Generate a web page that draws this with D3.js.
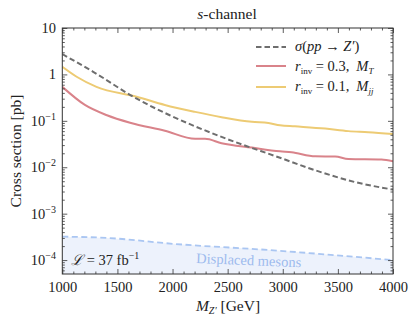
<!DOCTYPE html>
<html>
<head>
<meta charset="utf-8">
<script src="https://cdn.jsdelivr.net/npm/d3@7"></script>
<style>
  body { margin: 0; background: #fff; }
  svg text { font-family: "Liberation Serif", "Times New Roman", serif !important; }
</style>
</head>
<body>
<svg id="chart" width="415" height="323"></svg>
<script>
// values
const sigmaMass = [1000, 1280, 1675, 1975, 2445, 2975, 3295, 3655, 4000];
const sigmaZp   = [2.74, 1.14, 0.30, 0.132, 0.045, 0.016, 0.0086, 0.0048, 0.0033];

const mtMass = [1000, 1205, 1405, 1615, 1930, 2205, 2295, 2445, 2720, 2975, 3080, 3295, 3475, 3595, 3895, 4000];
const mtXsec = [0.54, 0.22, 0.132, 0.091, 0.061, 0.041, 0.041, 0.033, 0.0265, 0.022, 0.021, 0.0172, 0.017, 0.015, 0.0146, 0.0135];

const mjjMass = [1000, 1130, 1310, 1675, 1930, 2205, 2445, 2720, 2870, 2975, 3110, 3385, 3595, 3775, 4000];
const mjjXsec = [1.46, 0.89, 0.54, 0.33, 0.22, 0.156, 0.12, 0.095, 0.09, 0.08, 0.076, 0.068, 0.060, 0.057, 0.052];

const dispMass = [1000, 1405, 2005, 2915, 4000];
const dispXsec = [3.2e-4, 3.0e-4, 2.24e-4, 1.62e-4, 1.0e-4];

const xTicks = [1000, 1500, 2000, 2500, 3000, 3500, 4000];
const yDecades = [-4, -3, -2, -1, 0, 1];

const svg = d3.select('#chart');
const x = d3.scaleLinear().domain([1000, 4000]).range([62.3, 393]);
const y = d3.scaleLog().domain([Math.pow(10, -4.3), 10]).range([274, 28]);

const pts = (ms, vs) => ms.map((m, i) => [m, vs[i]]);
const line = d3.line().x(d => x(d[0])).y(d => y(d[1])).curve(d3.curveMonotoneX);

const plot = svg.append('g');
plot.append('clipPath').attr('id', 'clip')
  .append('rect').attr('x', 62.3).attr('y', 28).attr('width', 330.7).attr('height', 246);
const inner = plot.append('g').attr('clip-path', 'url(#clip)');

// displaced mesons band
const area = d3.area().x(d => x(d[0])).y0(274).y1(d => y(d[1])).curve(d3.curveMonotoneX);
inner.append('path').datum(pts(dispMass, dispXsec))
  .attr('d', area).attr('fill', '#edf2fc');
inner.append('path').datum(pts(dispMass, dispXsec))
  .attr('d', line).attr('fill', 'none').attr('stroke', '#aac6f2')
  .attr('stroke-width', 1.8).attr('stroke-dasharray', '6,3.5');

inner.append('path').datum(pts(mjjMass, mjjXsec))
  .attr('d', line).attr('fill', 'none').attr('stroke', '#edcb74').attr('stroke-width', 2);
inner.append('path').datum(pts(mtMass, mtXsec))
  .attr('d', line).attr('fill', 'none').attr('stroke', '#d9838a').attr('stroke-width', 2);
inner.append('path').datum(pts(sigmaMass, sigmaZp))
  .attr('d', line).attr('fill', 'none').attr('stroke', '#6e6e6e')
  .attr('stroke-width', 2).attr('stroke-dasharray', '5.5,3');

// axes: ticks point inward on all four sides
const minorY = [];
yDecades.forEach(p => { for (let k = 2; k <= 9; k++) { const v = k * Math.pow(10, p - 1); if (v >= Math.pow(10, -4.3) && v <= 10) minorY.push(v); } });
const minorX = d3.range(1000, 4001, 100).filter(v => v % 500 !== 0);

const axisStyle = g => {
  g.select('.domain').remove();
  g.selectAll('line').attr('stroke', '#333').attr('stroke-width', 0.8);
};

svg.append('g').attr('transform', 'translate(0,274)')
  .call(d3.axisBottom(x).tickValues(xTicks).tickSize(-5).tickPadding(8).tickFormat(d3.format('d')))
  .call(axisStyle)
  .call(g => g.selectAll('text').attr('font-size', 14.5).attr('fill', '#222'));
svg.append('g').attr('transform', 'translate(0,274)')
  .call(d3.axisBottom(x).tickValues(minorX).tickSize(-2.5).tickFormat('')).call(axisStyle);
svg.append('g').attr('transform', 'translate(0,28)')
  .call(d3.axisTop(x).tickValues(xTicks).tickSize(-5).tickFormat('')).call(axisStyle);
svg.append('g').attr('transform', 'translate(0,28)')
  .call(d3.axisTop(x).tickValues(minorX).tickSize(-2.5).tickFormat('')).call(axisStyle);

const yMajor = yDecades.map(p => Math.pow(10, p));
svg.append('g').attr('transform', 'translate(62.3,0)')
  .call(d3.axisLeft(y).tickValues(yMajor).tickSize(-5).tickFormat(''))
  .call(axisStyle);
svg.append('g').attr('transform', 'translate(62.3,0)')
  .call(d3.axisLeft(y).tickValues(minorY).tickSize(-2.5).tickFormat('')).call(axisStyle);
svg.append('g').attr('transform', 'translate(393,0)')
  .call(d3.axisRight(y).tickValues(yMajor).tickSize(-5).tickFormat('')).call(axisStyle);
svg.append('g').attr('transform', 'translate(393,0)')
  .call(d3.axisRight(y).tickValues(minorY).tickSize(-2.5).tickFormat('')).call(axisStyle);

// y tick labels with superscripts
yDecades.forEach(p => {
  const t = svg.append('text').attr('x', 56).attr('y', y(Math.pow(10, p)) + 5)
    .attr('text-anchor', 'end').attr('font-size', 14.5).attr('fill', '#222');
  if (p === 1) t.text('10');
  else if (p === 0) t.text('1');
  else {
    t.append('tspan').text('10');
    t.append('tspan').attr('dy', -6).attr('font-size', 10).text('\u2212' + (-p));
  }
});

// frame
svg.append('rect').attr('x', 62.3).attr('y', 28).attr('width', 330.7).attr('height', 246)
  .attr('fill', 'none').attr('stroke', '#333').attr('stroke-width', 1);

// title
const title = svg.append('text').attr('x', 227).attr('y', 19).attr('text-anchor', 'middle')
  .attr('font-size', 15.5).attr('fill', '#222');
title.append('tspan').attr('font-style', 'italic').text('s');
title.append('tspan').text('-channel');

// axis titles
const xl = svg.append('text').attr('x', 228).attr('y', 311).attr('text-anchor', 'middle')
  .attr('font-size', 15.5).attr('fill', '#222');
xl.append('tspan').attr('font-style', 'italic').text('M');
xl.append('tspan').attr('font-style', 'italic').attr('font-size', 10).attr('dy', 3).text('Z\u2032');
xl.append('tspan').attr('dy', -3).text(' [GeV]');

svg.append('text').attr('transform', 'translate(21,151) rotate(-90)').attr('text-anchor', 'middle')
  .attr('font-size', 15.5).attr('fill', '#222').text('Cross section [pb]');

// legend
const legendItems = [
  {color: '#6e6e6e', dash: '5.5,3', y: 47},
  {color: '#d9838a', dash: null, y: 66},
  {color: '#edcb74', dash: null, y: 87}
];
legendItems.forEach(d => {
  svg.append('line').attr('x1', 256).attr('x2', 286).attr('y1', d.y).attr('y2', d.y)
    .attr('stroke', d.color).attr('stroke-width', 2).attr('stroke-dasharray', d.dash);
});
const lg0 = svg.append('text').attr('x', 295).attr('y', 51).attr('font-size', 14.5).attr('fill', '#222');
lg0.append('tspan').attr('font-style', 'italic').text('\u03c3');
lg0.append('tspan').text('(');
lg0.append('tspan').attr('font-style', 'italic').text('pp');
lg0.append('tspan').text(' \u2192 ');
lg0.append('tspan').attr('font-style', 'italic').text('Z\u2032');
lg0.append('tspan').text(')');

const rLabel = (yy, val, sub) => {
  const t = svg.append('text').attr('x', 295).attr('y', yy).attr('font-size', 14.5).attr('fill', '#222');
  t.append('tspan').attr('font-style', 'italic').text('r');
  t.append('tspan').attr('font-size', 9).attr('dy', 3).text('inv');
  t.append('tspan').attr('dy', -3).text(' = ' + val + ',');
  t.append('tspan').attr('dx', 7).attr('font-style', 'italic').text('M');
  t.append('tspan').attr('font-style', 'italic').attr('font-size', 9).attr('dy', 3).text(sub);
};
rLabel(71, '0.3', 'T');
rLabel(91, '0.1', 'jj');

// annotations
const lum = svg.append('text').attr('x', 71).attr('y', 265).attr('font-size', 14.5).attr('fill', '#222');
lum.append('tspan').attr('font-style', 'italic').text('\u2112');
lum.append('tspan').text(' = 37 fb');
lum.append('tspan').attr('font-size', 10).attr('dy', -6).text('\u22121');

svg.append('text').attr('transform', 'translate(196,263) rotate(2.3)')
  .attr('font-size', 14.5).attr('fill', '#9dbbee').text('Displaced mesons');
</script>
</body>
</html>
